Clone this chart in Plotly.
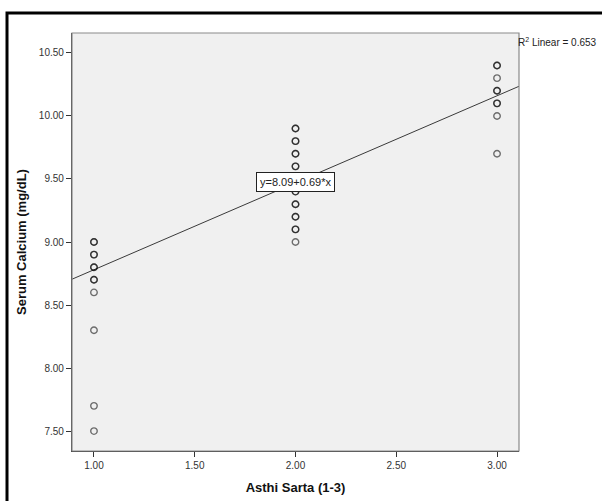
import plotly.graph_objects as go

# Data (duplicates appear as bolder circles)
asthi_sarta = [1, 1, 1, 1, 1, 1, 1, 1, 1, 1, 1, 1,
               2, 2, 2, 2, 2, 2, 2, 2, 2, 2, 2, 2, 2, 2, 2, 2, 2, 2, 2,
               3, 3, 3, 3, 3, 3, 3, 3, 3]
serum_calcium = [9.0, 9.0, 8.9, 8.9, 8.8, 8.8, 8.7, 8.7, 8.6, 8.3, 7.7, 7.5,
                 9.9, 9.9, 9.8, 9.8, 9.7, 9.7, 9.6, 9.6, 9.5, 9.4, 9.4, 9.3, 9.3, 9.2, 9.2, 9.1, 9.1, 9.0, 9.5,
                 10.4, 10.4, 10.3, 10.2, 10.2, 10.1, 10.1, 10.0, 9.7]
fit_intercept = [8.09]
fit_slope = [0.69]
r_squared = [0.653]
x_range = [0.891, 3.109]
y_range = [7.342, 10.658]
x_ticks = [1.0, 1.5, 2.0, 2.5, 3.0]
y_ticks = [7.5, 8.0, 8.5, 9.0, 9.5, 10.0, 10.5]

fit_x = x_range
fit_y = [fit_intercept[0] + fit_slope[0] * v for v in fit_x]

fig = go.Figure()
fig.add_trace(go.Scatter(
    x=fit_x, y=fit_y, mode="lines",
    line=dict(color="#3a3a3a", width=1), hoverinfo="skip", showlegend=False))
fig.add_trace(go.Scatter(
    x=asthi_sarta, y=serum_calcium, mode="markers",
    marker=dict(symbol="circle-open", size=6.5, color="rgba(0,0,0,0.55)",
                line=dict(width=1.4, color="rgba(0,0,0,0.55)")),
    showlegend=False))

font_family = "Liberation Sans, Arial, sans-serif"

fig.add_annotation(
    x=2.0, y=9.475, xref="x", yref="y",
    text="y=%.2f+%.2f*x" % (fit_intercept[0], fit_slope[0]),
    showarrow=False, bgcolor="white", bordercolor="#222", borderwidth=1,
    borderpad=3, font=dict(size=11, color="#222", family=font_family))
fig.add_annotation(
    x=1.0, y=1.0, xref="paper", yref="paper", xanchor="left", yanchor="top",
    xshift=-3, yshift=-1,
    text="R<sup>2</sup> Linear = %.3f" % r_squared[0],
    showarrow=False, font=dict(size=10, color="#222", family=font_family))

# outer frame (extends past the right and bottom edges)
fig.add_shape(type="rect", xref="paper", yref="paper",
              x0=-0.1454, y0=-1.0, x1=2.0, y1=1.0478,
              line=dict(color="black", width=3), fillcolor="rgba(0,0,0,0)", layer="above")
# plot area border (gray on top/right)
fig.add_shape(type="rect", xref="paper", yref="paper",
              x0=0, y0=0, x1=1, y1=1,
              line=dict(color="#8a8a8a", width=1.2), fillcolor="rgba(0,0,0,0)", layer="above")

axis_common = dict(
    showgrid=False, zeroline=False, showline=True, linecolor="#333", linewidth=1.2,
    ticks="outside", ticklen=5, tickcolor="#333", tickwidth=1,
    tickformat=".2f", tickfont=dict(size=10, color="#333", family=font_family),
)
fig.update_xaxes(range=x_range, tickvals=x_ticks, **axis_common,
                 title=dict(text="<b>Asthi Sarta (1-3)</b>", standoff=12,
                            font=dict(size=13, color="#111", family=font_family)))
fig.update_yaxes(range=y_range, tickvals=y_ticks, **axis_common,
                 title=dict(text="<b>Serum Calcium (mg/dL)</b>", standoff=9,
                            font=dict(size=13, color="#111", family=font_family)))

fig.update_layout(
    width=602, height=501,
    margin=dict(l=72, r=83, t=33, b=50, autoexpand=False),
    paper_bgcolor="white", plot_bgcolor="#f0f0f0",
    showlegend=False,
)
fig.write_html("out.html", config={"displayModeBar": False},
               post_script="document.body.style.margin='0px';document.body.style.overflow='hidden';")
